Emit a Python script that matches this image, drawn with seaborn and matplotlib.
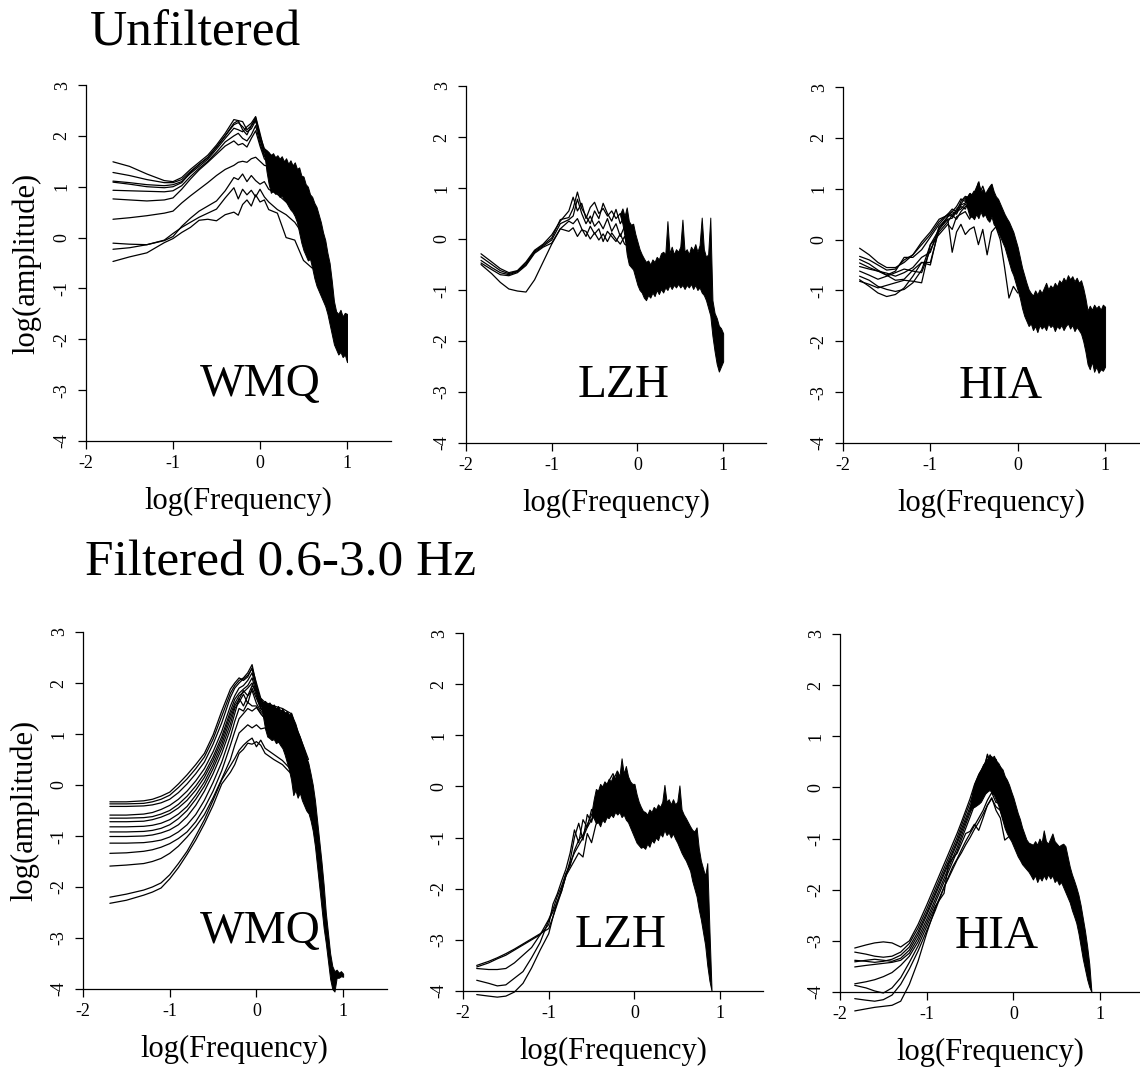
import numpy as np
import pandas as pd
import matplotlib
matplotlib.use("Agg")
import matplotlib.pyplot as plt
import seaborn as sns

# ---------------------------------------------------------------- data
# ---- Unfiltered, WMQ
U_WMQ_X = [-1.69, -1.5, -1.3, -1.1, -1.0, -0.9, -0.8, -0.7, -0.6, -0.5, -0.4, -0.3, -0.25,
           -0.2, -0.15, -0.1, -0.05, 0.0, 0.05, 0.1, 0.2, 0.3, 0.4, 0.5, 0.6]
U_WMQ_LINES = [
    [1.49, 1.40, 1.25, 1.12, 1.10, 1.18, 1.34, 1.48, 1.62, 1.82, 2.05, 2.32, 2.30, 2.28, 2.12, 2.20, 2.36, 2.00, 1.75, 1.65, 1.55, 1.45, 1.40, 1.10, 0.70],
    [1.28, 1.22, 1.14, 1.08, 1.08, 1.14, 1.30, 1.44, 1.58, 1.78, 2.00, 2.22, 2.26, 2.18, 2.08, 2.14, 2.30, 1.92, 1.68, 1.60, 1.50, 1.38, 1.30, 1.00, 0.60],
    [1.11, 1.08, 1.04, 1.02, 1.04, 1.10, 1.26, 1.40, 1.54, 1.74, 1.95, 2.15, 2.12, 2.08, 2.18, 2.25, 2.38, 2.05, 1.70, 1.62, 1.45, 1.30, 1.25, 0.95, 0.50],
    [1.09, 1.05, 1.00, 0.98, 1.00, 1.08, 1.28, 1.44, 1.57, 1.78, 2.00, 2.25, 2.30, 2.12, 2.02, 2.20, 2.32, 1.95, 1.62, 1.55, 1.40, 1.35, 1.20, 0.90, 0.55],
    [0.93, 0.92, 0.91, 0.90, 0.92, 1.02, 1.20, 1.36, 1.50, 1.68, 1.88, 2.00, 2.05, 1.95, 1.90, 2.02, 2.20, 1.85, 1.60, 1.50, 1.30, 1.20, 1.10, 0.85, 0.45],
    [0.76, 0.74, 0.72, 0.74, 0.78, 0.95, 1.15, 1.33, 1.48, 1.64, 1.80, 1.90, 1.82, 1.85, 1.78, 1.95, 2.10, 1.80, 1.55, 1.45, 1.25, 1.15, 1.00, 0.75, 0.40],
    [0.36, 0.39, 0.43, 0.48, 0.52, 0.68, 0.82, 0.95, 1.08, 1.22, 1.34, 1.42, 1.48, 1.50, 1.48, 1.55, 1.58, 1.50, 1.42, 1.40, 1.20, 1.05, 0.80, 0.55, 0.20],
    [-0.11, -0.13, -0.14, -0.06, 0.02, 0.22, 0.38, 0.52, 0.62, 0.72, 0.92, 1.18, 1.14, 1.25, 1.10, 1.22, 1.12, 1.05, 1.10, 0.95, 0.85, 0.70, 0.55, 0.25, -0.05],
    [-0.23, -0.20, -0.14, -0.05, 0.08, 0.20, 0.30, 0.40, 0.48, 0.56, 0.78, 0.98, 0.76, 0.95, 0.84, 0.93, 0.80, 0.95, 0.80, 0.70, 0.55, 0.45, 0.30, 0.05, -0.25],
    [-0.47, -0.38, -0.30, -0.10, -0.02, 0.10, 0.20, 0.34, 0.36, 0.33, 0.45, 0.50, 0.44, 0.65, 0.74, 0.62, 0.84, 0.70, 0.74, 0.55, 0.48, 0.00, -0.05, -0.45, -0.60],
]
U_WMQ_BAND_SPAN = (0.05, 1.0)
U_WMQ_BAND_HI = [1.75, 1.72, 1.68, 1.62, 1.66, 1.58, 1.62, 1.55, 1.60, 1.50, 1.56, 1.45, 1.52, 1.42, 1.48, 1.35,
                 1.38, 1.22, 1.20, 1.05, 1.00, 0.85, 0.80, 0.68, 0.60, 0.45, 0.30, 0.10, -0.05, -0.30, -0.50,
                 -0.85, -1.25, -1.45, -1.50, -1.42, -1.55, -1.48, -1.50]
U_WMQ_BAND_LO = [1.65, 1.30, 1.05, 0.88, 0.92, 0.86, 0.88, 0.80, 0.82, 0.75, 0.70, 0.62, 0.55, 0.50, 0.42, 0.30,
                 0.10, -0.10, -0.25, -0.35, -0.45, -0.42, -0.60, -0.80, -0.95, -1.05, -1.15, -1.25, -1.35, -1.50,
                 -1.70, -1.90, -2.10, -2.20, -2.30, -2.25, -2.35, -2.30, -2.45]

# ---- Unfiltered, LZH
U_LZH_X = [-1.825, -1.7, -1.6, -1.5, -1.4, -1.3, -1.2, -1.1, -1.0, -0.9, -0.8, -0.75, -0.7, -0.65,
           -0.6, -0.55, -0.5, -0.45, -0.4, -0.35, -0.3, -0.25, -0.2, -0.15, -0.1]
U_LZH_LINES = [
    [-0.29, -0.45, -0.58, -0.66, -0.62, -0.45, -0.22, -0.10, 0.08, 0.35, 0.55, 0.82, 0.55, 0.70, 0.40, 0.62, 0.72, 0.50, 0.60, 0.45, 0.55, 0.40, 0.50, 0.30, 0.20],
    [-0.35, -0.50, -0.62, -0.68, -0.63, -0.48, -0.24, -0.12, 0.02, 0.38, 0.42, 0.60, 0.92, 0.60, 0.45, 0.30, 0.55, 0.40, 0.70, 0.50, 0.35, 0.58, 0.30, 0.45, 0.10],
    [-0.42, -0.56, -0.66, -0.70, -0.64, -0.50, -0.26, -0.14, -0.02, 0.30, 0.38, 0.45, 0.78, 0.50, 0.30, 0.45, 0.25, 0.35, 0.20, 0.40, 0.15, 0.30, 0.05, 0.25, 0.00],
    [-0.47, -0.60, -0.70, -0.72, -0.66, -0.52, -0.28, -0.16, -0.08, 0.20, 0.35, 0.30, 0.40, 0.20, 0.05, 0.25, 0.10, 0.20, -0.05, 0.15, 0.05, -0.05, 0.10, -0.10, -0.15],
    [-0.50, -0.68, -0.85, -0.98, -1.02, -1.04, -0.80, -0.45, -0.10, 0.20, 0.15, 0.22, 0.05, 0.18, 0.15, 0.00, 0.12, -0.02, 0.10, -0.05, 0.12, 0.00, -0.10, 0.05, -0.20],
]
U_LZH_BAND_SPAN = (-0.2, 1.0)
U_LZH_BAND_HI = [0.50, 0.60, 0.45, 0.62, 0.35, 0.28, 0.30, 0.10,
                 -0.05, -0.20, -0.30, -0.38, -0.45, -0.42, -0.50, -0.40,
                 -0.45, -0.35, -0.40, -0.28, -0.25, -0.30, 0.35, -0.28,
                 -0.15, -0.30, -0.20, -0.25, -0.15, 0.38, -0.25, -0.20,
                 -0.30, -0.15, -0.22, -0.10, -0.25, -0.12, 0.42, -0.20,
                 -0.35, -0.30, 0.42, -1.20, -1.45, -1.55, -1.70, -1.75, -1.85]
U_LZH_BAND_LO = [0.45, 0.30, 0.05, -0.30, -0.50, -0.55, -0.60, -0.75,
                 -0.90, -1.00, -1.05, -1.15, -1.20, -1.10, -1.15, -1.05,
                 -1.12, -1.00, -1.08, -0.98, -1.05, -0.95, -1.00, -0.90,
                 -0.98, -0.90, -0.95, -0.88, -0.95, -0.90, -0.98, -0.90,
                 -0.95, -0.88, -0.98, -0.90, -1.00, -0.95, -1.05, -1.10,
                 -1.20, -1.35, -1.50, -1.90, -2.20, -2.45, -2.60, -2.50, -2.40]

# ---- Unfiltered, HIA
U_HIA_X = [-1.81, -1.7, -1.6, -1.5, -1.4, -1.3, -1.2, -1.1, -1.0, -0.9, -0.8, -0.75, -0.7, -0.65,
           -0.6, -0.55, -0.5, -0.45, -0.4, -0.35, -0.3, -0.25, -0.2, -0.15, -0.1, -0.05, 0.0]
U_HIA_LINES = [
    [-0.17, -0.30, -0.45, -0.55, -0.55, -0.45, -0.30, -0.10, 0.10, 0.35, 0.50, 0.60, 0.55, 0.75, 0.85, 0.80, 0.95, 0.85, 1.05, 0.80, 0.95, 0.70, 0.60, 0.40, 0.30, 0.00, -0.30],
    [-0.33, -0.40, -0.50, -0.60, -0.58, -0.40, -0.30, -0.05, 0.15, 0.40, 0.48, 0.55, 0.65, 0.80, 0.75, 0.90, 0.80, 1.12, 0.85, 0.75, 1.08, 0.65, 0.55, 0.35, 0.20, -0.10, -0.40],
    [-0.39, -0.48, -0.60, -0.70, -0.62, -0.35, -0.35, -0.20, 0.05, 0.30, 0.50, 0.45, 0.60, 0.70, 0.82, 0.65, 0.78, 0.70, 0.88, 0.90, 0.75, 0.80, 0.50, 0.30, 0.15, -0.20, -0.50],
    [-0.46, -0.55, -0.62, -0.66, -0.72, -0.65, -0.55, -0.35, -0.25, 0.25, 0.45, 0.55, 0.50, 0.68, 0.72, 0.85, 0.70, 0.80, 0.60, 0.85, 0.70, 0.55, 0.45, 0.35, 0.10, -0.05, -0.45],
    [-0.53, -0.58, -0.62, -0.70, -0.80, -0.78, -0.60, -0.45, -0.45, 0.20, 0.40, 0.42, 0.55, 0.60, 0.70, 0.58, 0.75, 0.65, 0.72, 0.60, 0.82, 0.60, 0.40, 0.25, 0.05, -0.15, -0.60],
    [-0.62, -0.70, -0.78, -0.72, -0.65, -0.58, -0.62, -0.65, -0.20, 0.15, 0.35, 0.48, 0.40, 0.55, 0.65, 0.70, 0.62, 0.75, 0.55, 0.65, 0.60, 0.45, 0.35, 0.20, 0.00, -0.30, -0.70],
    [-0.72, -0.80, -0.92, -0.98, -1.02, -0.98, -0.85, -0.60, -0.10, 0.10, 0.30, 0.20, 0.45, 0.50, 0.55, 0.40, 0.60, 0.50, 0.65, 0.45, 0.55, 0.40, 0.25, 0.10, -0.10, -0.40, -0.80],
    [-0.79, -0.92, -1.05, -1.12, -1.08, -0.95, -0.72, -0.45, -0.50, 0.25, 0.40, -0.25, 0.15, 0.30, 0.10, 0.20, 0.25, -0.10, 0.20, -0.30, 0.15, 0.25, 0.00, -0.55, -1.15, -0.92, -1.05],
    [-0.82, -0.88, -0.95, -0.90, -0.85, -0.80, -0.82, -0.85, -0.10, 0.20, 0.45, 0.50, 0.55, 0.65, 0.60, 0.78, 0.70, 0.90, 0.72, 0.80, 0.62, 0.50, 0.30, 0.15, -0.05, -0.35, -0.75],
]
U_HIA_BAND_SPAN = (-0.6, 1.0)
U_HIA_BAND_HI = [0.85, 0.85, 0.92, 0.88, 0.95, 1.05, 1.15, 0.92,
                 1.00, 0.90, 0.98, 1.05, 1.10, 0.95, 0.85, 0.80,
                 0.70, 0.60, 0.50, 0.42, 0.35, 0.25, 0.15, 0.00,
                 -0.15, -0.35, -0.55, -0.70, -0.85, -0.98, -1.05, -1.10,
                 -1.00, -1.08, -0.98, -1.05, -0.95, -0.85, -0.98, -0.90,
                 -0.95, -0.85, -0.92, -0.80, -0.85, -0.75, -0.82, -0.70,
                 -0.78, -0.72, -0.82, -0.75, -0.85, -0.80, -0.95, -1.15,
                 -1.40, -1.30, -1.38, -1.28, -1.35, -1.30, -1.38, -1.28, -1.32]
U_HIA_BAND_LO = [0.80, 0.60, 0.45, 0.45, 0.40, 0.50, 0.42, 0.55,
                 0.45, 0.50, 0.40, 0.35, 0.45, 0.30, 0.25, 0.15,
                 0.05, -0.05, -0.15, -0.30, -0.45, -0.60, -0.70, -0.85,
                 -1.00, -1.15, -1.35, -1.50, -1.60, -1.70, -1.65, -1.78,
                 -1.70, -1.82, -1.68, -1.75, -1.70, -1.78, -1.65, -1.72,
                 -1.68, -1.80, -1.70, -1.75, -1.68, -1.78, -1.70, -1.65,
                 -1.75, -1.68, -1.80, -1.72, -1.78, -1.85, -2.00, -2.20,
                 -2.45, -2.55, -2.40, -2.60, -2.50, -2.62, -2.55, -2.58, -2.50]

# ---- Filtered 0.6-3.0 Hz, WMQ
F_WMQ_X = [-1.69, -1.5, -1.3, -1.2, -1.1, -1.0, -0.9, -0.8, -0.7, -0.6, -0.5, -0.4, -0.3, -0.25,
           -0.2, -0.15, -0.1, -0.05, 0.0, 0.05, 0.1, 0.2, 0.3, 0.4, 0.5, 0.6]
F_WMQ_LINES = [
    [-0.33, -0.33, -0.31, -0.28, -0.22, -0.14, 0.02, 0.20, 0.40, 0.62, 0.98, 1.45, 1.88, 2.00, 2.10, 2.05, 2.12, 2.30, 2.00, 1.70, 1.62, 1.55, 1.50, 1.40, 0.95, 0.50],
    [-0.37, -0.37, -0.36, -0.33, -0.28, -0.20, -0.05, 0.12, 0.32, 0.55, 0.90, 1.35, 1.80, 1.95, 2.05, 2.10, 2.20, 2.36, 1.95, 1.65, 1.58, 1.52, 1.45, 1.30, 0.90, 0.40],
    [-0.42, -0.42, -0.41, -0.39, -0.35, -0.28, -0.15, 0.02, 0.22, 0.45, 0.80, 1.22, 1.72, 1.90, 2.00, 2.08, 2.15, 2.28, 1.90, 1.60, 1.55, 1.45, 1.40, 1.25, 0.85, 0.35],
    [-0.59, -0.59, -0.57, -0.54, -0.48, -0.40, -0.28, -0.12, 0.08, 0.32, 0.65, 1.05, 1.55, 1.75, 1.90, 1.95, 2.05, 2.20, 1.85, 1.55, 1.50, 1.40, 1.30, 1.20, 0.80, 0.30],
    [-0.65, -0.65, -0.64, -0.62, -0.57, -0.50, -0.38, -0.22, -0.02, 0.22, 0.55, 0.95, 1.45, 1.68, 1.80, 1.88, 1.95, 2.10, 1.80, 1.52, 1.45, 1.35, 1.25, 1.10, 0.75, 0.25],
    [-0.72, -0.72, -0.71, -0.68, -0.63, -0.56, -0.45, -0.30, -0.10, 0.15, 0.48, 0.88, 1.38, 1.60, 1.75, 1.82, 1.90, 2.00, 1.75, 1.50, 1.40, 1.30, 1.20, 1.05, 0.70, 0.20],
    [-0.82, -0.82, -0.81, -0.79, -0.75, -0.68, -0.57, -0.42, -0.20, 0.06, 0.40, 0.80, 1.30, 1.55, 1.68, 1.85, 1.75, 1.95, 1.85, 1.60, 1.45, 1.35, 1.25, 1.15, 0.75, 0.30],
    [-0.92, -0.92, -0.91, -0.89, -0.85, -0.78, -0.66, -0.50, -0.28, -0.02, 0.32, 0.72, 1.20, 1.50, 1.62, 1.78, 1.60, 1.90, 1.70, 1.50, 1.40, 1.30, 1.20, 1.00, 0.70, 0.25],
    [-1.01, -1.01, -1.00, -0.98, -0.94, -0.88, -0.78, -0.62, -0.40, -0.12, 0.22, 0.62, 1.10, 1.40, 1.70, 1.55, 1.75, 1.85, 1.60, 1.45, 1.35, 1.25, 1.10, 0.95, 0.60, 0.15],
    [-1.14, -1.14, -1.13, -1.11, -1.08, -1.02, -0.92, -0.78, -0.58, -0.30, 0.05, 0.45, 0.95, 1.25, 1.50, 1.45, 1.62, 1.55, 1.55, 1.40, 1.30, 1.15, 1.05, 0.90, 0.55, 0.10],
    [-1.34, -1.33, -1.30, -1.27, -1.22, -1.15, -1.05, -0.92, -0.72, -0.45, -0.12, 0.28, 0.78, 1.05, 1.30, 1.40, 1.50, 1.45, 1.52, 1.40, 1.30, 1.20, 1.10, 0.90, 0.50, 0.05],
    [-1.59, -1.57, -1.54, -1.50, -1.44, -1.34, -1.20, -1.02, -0.82, -0.58, -0.25, 0.12, 0.50, 0.78, 1.02, 1.10, 1.18, 1.12, 1.18, 1.10, 1.12, 0.95, 0.85, 0.70, 0.40, -0.10],
    [-2.20, -2.14, -2.06, -2.00, -1.92, -1.76, -1.54, -1.30, -1.00, -0.68, -0.30, 0.10, 0.38, 0.52, 0.68, 0.78, 0.86, 0.92, 0.75, 0.88, 0.72, 0.60, 0.48, 0.30, 0.10, -0.45],
    [-2.32, -2.26, -2.16, -2.10, -2.02, -1.84, -1.62, -1.36, -1.08, -0.76, -0.40, 0.02, 0.25, 0.40, 0.62, 0.70, 0.82, 0.80, 0.85, 0.78, 0.62, 0.50, 0.40, 0.22, 0.00, -0.55],
]
F_WMQ_BAND_SPAN = (0.05, 1.0)
F_WMQ_BAND_HI = [1.70, 1.62, 1.65, 1.58, 1.62, 1.55, 1.58, 1.50,
                 1.55, 1.45, 1.50, 1.42, 1.45, 1.38, 1.42, 1.30,
                 1.20, 1.05, 0.95, 0.82, 0.70, 0.55, 0.42, 0.22,
                 0.00, -0.30, -0.70, -1.10, -1.50, -1.95, -2.50, -2.90,
                 -3.30, -3.55, -3.65, -3.62, -3.68, -3.65, -3.70]
F_WMQ_BAND_LO = [1.62, 1.35, 1.10, 0.95, 0.92, 0.88, 0.90, 0.82,
                 0.85, 0.78, 0.72, 0.60, 0.45, 0.30, 0.10, -0.20,
                 -0.10, -0.25, -0.15, -0.30, -0.40, -0.50, -0.55, -0.70,
                 -0.90, -1.20, -1.60, -2.00, -2.40, -2.80, -3.10, -3.45,
                 -3.80, -4.00, -4.05, -3.78, -3.78, -3.75, -3.76]

# ---- Filtered 0.6-3.0 Hz, LZH
F_LZH_X = [-1.84, -1.7, -1.6, -1.5, -1.4, -1.3, -1.2, -1.1, -1.0, -0.95, -0.9, -0.85, -0.8, -0.75,
           -0.7, -0.65, -0.6, -0.55, -0.5, -0.45, -0.4, -0.35, -0.3, -0.25, -0.2, -0.15, -0.1]
F_LZH_LINES = [
    [-3.50, -3.42, -3.35, -3.27, -3.18, -3.08, -2.98, -2.88, -2.78, -2.55, -2.25, -2.00, -1.75, -1.45, -1.00, -0.72, -1.05, -0.55, -0.70, -0.35, -0.50, -0.10, -0.30, 0.05, -0.10, 0.20, 0.10],
    [-3.53, -3.45, -3.37, -3.30, -3.20, -3.10, -3.00, -2.90, -2.70, -2.30, -2.10, -1.85, -1.62, -1.30, -0.85, -1.10, -0.65, -0.80, -0.45, -0.60, -0.20, -0.40, 0.00, -0.15, 0.25, 0.05, 0.20],
    [-3.56, -3.58, -3.58, -3.56, -3.45, -3.30, -3.15, -2.90, -2.60, -2.40, -2.15, -1.95, -1.70, -1.55, -1.25, -1.05, -0.95, -0.75, -0.55, -0.45, -0.25, -0.15, 0.10, 0.25, 0.05, 0.15, -0.10],
    [-3.79, -3.85, -3.90, -3.88, -3.75, -3.62, -3.35, -3.05, -2.62, -2.45, -2.25, -2.05, -1.75, -1.50, -1.30, -1.15, -1.00, -0.80, -0.65, -0.40, -0.50, -0.20, -0.05, 0.10, 0.30, 0.00, 0.15],
    [-4.07, -4.10, -4.12, -4.10, -4.02, -3.85, -3.55, -3.20, -2.88, -2.55, -2.30, -2.05, -1.75, -1.60, -1.45, -1.30, -1.38, -0.92, -1.10, -0.75, -0.60, -0.40, -0.55, -0.20, -0.35, -0.10, 0.00],
]
F_LZH_BAND_SPAN = (-0.5, 0.9)
F_LZH_BAND_HI = [-0.50, -0.25, -0.05, -0.08, 0.05, 0.00, 0.10, 0.05,
                 0.15, 0.10, 0.22, 0.15, 0.30, 0.20, 0.55, 0.25,
                 0.40, 0.20, 0.10, 0.05, 0.05, -0.15, -0.30, -0.40,
                 -0.48, -0.50, -0.55, -0.45, -0.50, -0.40, -0.45, -0.35,
                 -0.40, -0.30, 0.03, -0.30, -0.25, -0.35, -0.25, -0.35,
                 -0.30, 0.02, -0.45, -0.55, -0.62, -0.70, -0.78, -0.85,
                 -0.88, -0.80, -1.20, -1.45, -1.60, -1.75, -1.50, -2.80, -4.00]
F_LZH_BAND_LO = [-0.58, -0.62, -0.72, -0.70, -0.78, -0.65, -0.70, -0.60,
                 -0.62, -0.55, -0.60, -0.50, -0.55, -0.50, -0.60, -0.55,
                 -0.65, -0.70, -0.80, -0.90, -1.00, -1.10, -1.15, -1.20,
                 -1.18, -1.22, -1.12, -1.18, -1.05, -1.10, -1.00, -1.05,
                 -0.92, -0.98, -0.85, -0.95, -0.90, -1.00, -0.92, -1.02,
                 -1.10, -1.20, -1.30, -1.38, -1.45, -1.55, -1.65, -1.85,
                 -2.00, -2.15, -2.40, -2.60, -2.85, -3.10, -3.50, -3.80, -4.00]

# ---- Filtered 0.6-3.0 Hz, HIA
F_HIA_X = [-1.83, -1.7, -1.6, -1.5, -1.4, -1.3, -1.2, -1.1, -1.0, -0.9, -0.8, -0.75, -0.7, -0.65,
           -0.6, -0.55, -0.5, -0.45, -0.4, -0.35, -0.3, -0.25, -0.2, -0.15, -0.1, -0.05, 0.0]
F_HIA_LINES = [
    [-3.14, -3.08, -3.04, -3.02, -3.04, -3.12, -3.00, -2.68, -2.30, -1.90, -1.50, -1.30, -1.10, -0.90, -0.68, -0.45, -0.22, 0.05, 0.25, 0.40, 0.55, 0.60, 0.45, 0.35, 0.20, 0.00, -0.25],
    [-3.22, -3.26, -3.30, -3.32, -3.30, -3.22, -3.05, -2.75, -2.38, -1.98, -1.58, -1.38, -1.18, -0.98, -0.75, -0.52, -0.30, -0.05, 0.20, 0.35, 0.62, 0.45, 0.55, 0.30, 0.15, -0.10, -0.35],
    [-3.38, -3.40, -3.42, -3.40, -3.36, -3.28, -3.12, -2.82, -2.45, -2.05, -1.65, -1.45, -1.25, -1.05, -0.82, -0.60, -0.38, -0.15, 0.10, 0.30, 0.50, 0.55, 0.35, 0.40, 0.10, -0.15, -0.45],
    [-3.41, -3.38, -3.36, -3.38, -3.40, -3.34, -3.18, -2.88, -2.50, -2.10, -1.70, -1.50, -1.30, -1.10, -0.88, -0.66, -0.44, -0.20, 0.05, 0.25, 0.65, 0.40, 0.50, 0.20, 0.20, -0.20, -0.50],
    [-3.51, -3.48, -3.46, -3.44, -3.42, -3.38, -3.24, -2.95, -2.58, -2.18, -1.78, -1.58, -1.38, -1.18, -0.95, -0.72, -0.50, -0.28, -0.05, 0.15, 0.40, 0.30, 0.25, 0.10, 0.05, -0.30, -0.55],
    [-3.84, -3.80, -3.76, -3.70, -3.62, -3.48, -3.30, -3.02, -2.65, -2.25, -1.85, -1.65, -1.45, -1.25, -1.02, -0.80, -0.58, -0.35, -0.15, 0.05, 0.30, 0.10, 0.15, -0.05, -0.20, -0.40, -0.65],
    [-3.87, -3.92, -3.98, -4.02, -3.92, -3.72, -3.42, -3.10, -2.72, -2.32, -2.07, -1.50, -1.38, -1.29, -1.10, -0.90, -0.86, -0.72, -0.84, -0.60, -0.35, -0.20, -0.45, -0.60, -1.03, -0.96, -1.00],
    [-4.13, -4.16, -4.18, -4.15, -4.06, -3.85, -3.55, -3.20, -2.80, -2.40, -1.95, -1.75, -1.55, -1.40, -1.22, -1.05, -0.90, -0.75, -0.60, -0.45, -0.25, -0.10, -0.30, -0.25, -0.50, -0.70, -0.85],
    [-4.37, -4.33, -4.30, -4.28, -4.26, -4.18, -3.85, -3.40, -2.85, -2.35, -1.95, -1.78, -1.60, -1.42, -1.28, -1.12, -0.98, -0.82, -0.68, -0.52, -0.35, -0.22, -0.38, -0.45, -0.70, -0.85, -0.95],
]
F_HIA_BAND_SPAN = (-0.5, 0.9)
F_HIA_BAND_HI = [-0.38, -0.10, 0.08, 0.18, 0.28, 0.35, 0.45, 0.50,
                 0.55, 0.65, 0.58, 0.62, 0.52, 0.48, 0.40, 0.35,
                 0.22, 0.15, 0.05, -0.08, -0.20, -0.35, -0.50, -0.62,
                 -0.78, -0.90, -1.02, -1.08, -1.10, -1.12, -1.05, -1.12,
                 -1.00, -1.08, -0.84, -1.05, -1.10, -1.00, -0.90, -1.05,
                 -1.10, -1.15, -1.12, -1.10, -1.15, -1.35, -1.55, -1.70,
                 -1.82, -1.95, -2.10, -2.30, -2.55, -2.80, -3.10, -3.45, -4.00]
F_HIA_BAND_LO = [-0.45, -0.40, -0.38, -0.35, -0.32, -0.28, -0.20, -0.12,
                 -0.08, -0.05, -0.10, -0.15, -0.25, -0.35, -0.50, -0.65,
                 -0.80, -0.90, -0.98, -1.05, -1.15, -1.25, -1.35, -1.42,
                 -1.50, -1.55, -1.60, -1.65, -1.72, -1.80, -1.72, -1.85,
                 -1.75, -1.82, -1.72, -1.80, -1.70, -1.78, -1.72, -1.85,
                 -1.80, -1.90, -1.85, -1.95, -2.05, -2.15, -2.25, -2.40,
                 -2.52, -2.65, -2.85, -3.10, -3.35, -3.55, -3.75, -3.90, -4.00]

STATIONS = ["WMQ", "LZH", "HIA"]
ROW_TITLES = ["Unfiltered", "Filtered 0.6-3.0 Hz"]
X_TICKS = [-2, -1, 0, 1]
Y_TICKS = [-4, -3, -2, -1, 0, 1, 2, 3]

PANELS = [
    (U_WMQ_X, U_WMQ_LINES, U_WMQ_BAND_SPAN, U_WMQ_BAND_HI, U_WMQ_BAND_LO),
    (U_LZH_X, U_LZH_LINES, U_LZH_BAND_SPAN, U_LZH_BAND_HI, U_LZH_BAND_LO),
    (U_HIA_X, U_HIA_LINES, U_HIA_BAND_SPAN, U_HIA_BAND_HI, U_HIA_BAND_LO),
    (F_WMQ_X, F_WMQ_LINES, F_WMQ_BAND_SPAN, F_WMQ_BAND_HI, F_WMQ_BAND_LO),
    (F_LZH_X, F_LZH_LINES, F_LZH_BAND_SPAN, F_LZH_BAND_HI, F_LZH_BAND_LO),
    (F_HIA_X, F_HIA_LINES, F_HIA_BAND_SPAN, F_HIA_BAND_HI, F_HIA_BAND_LO),
]

# ---------------------------------------------------------------- layout / style
W, H = 1140, 1074
AX_RECTS = [
    [86 / W, 1 - 441 / H, 304.5 / W, 356 / H],
    [466 / W, 1 - 443 / H, 300 / W, 357 / H],
    [843 / W, 1 - 443 / H, 297 / W, 356 / H],
    [83 / W, 1 - 989 / H, 303.5 / W, 357 / H],
    [463 / W, 1 - 991 / H, 300 / W, 358 / H],
    [840 / W, 1 - 992 / H, 300 / W, 358 / H],
]
X_MAX = [1.5, 1.5, 1.40, 1.5, 1.5, 1.46]
LABEL_POS = [(0.0, -3.12), (-0.156, -3.10), (-0.20, -3.11),
             (0.04, -3.10), (-0.16, -3.14), (-0.19, -3.13)]

sns.set_style("ticks")
plt.rcParams["font.family"] = ["Liberation Serif", "DejaVu Serif"]
plt.rcParams["axes.unicode_minus"] = False
plt.rcParams["text.color"] = "black"
plt.rcParams["axes.labelcolor"] = "black"
plt.rcParams["xtick.color"] = "black"
plt.rcParams["ytick.color"] = "black"
plt.rcParams["axes.edgecolor"] = "black"

fig = plt.figure(figsize=(W / 100, H / 100), dpi=100)

for i, (xs, lines, span, hi, lo) in enumerate(PANELS):
    ax = fig.add_axes(AX_RECTS[i])
    rows = [(x, y, k) for k, ys in enumerate(lines) for x, y in zip(xs, ys)]
    df = pd.DataFrame(rows, columns=["x", "y", "trace"])
    sns.lineplot(data=df, x="x", y="y", units="trace", estimator=None, sort=False,
                 color="black", linewidth=0.9, legend=False, ax=ax)
    n = min(len(hi), len(lo))
    bx = np.linspace(span[0], span[1], n)
    ax.fill_between(bx, lo[:n], hi[:n], facecolor="black", edgecolor="black",
                    linewidth=0.7, clip_on=False)
    for ln in ax.lines:
        ln.set_clip_on(False)

    ax.set_xlim(-2, X_MAX[i])
    ax.set_ylim(-4, 3)
    sns.despine(ax=ax)
    for s in ("left", "bottom"):
        ax.spines[s].set_linewidth(0.9)
        ax.spines[s].set_color("black")
    ax.set_xticks(X_TICKS)
    ax.set_yticks(Y_TICKS)
    ax.set_xticklabels([str(t) for t in X_TICKS])
    ax.set_yticklabels([str(t) for t in Y_TICKS])
    ax.tick_params(direction="out", length=6, width=0.9, labelsize=13,
                   colors="black", labelcolor="black")
    ax.tick_params(axis="x", pad=4)
    ax.tick_params(axis="y", pad=5)
    for lab in ax.get_yticklabels():
        lab.set_rotation(90)
        lab.set_va("center")

    ax.set_xlabel("log(Frequency)", fontsize=22, color="black")
    ax.xaxis.set_label_coords(0.5, -0.128)
    if i % 3 == 0:
        ax.set_ylabel("log(amplitude)", fontsize=22, color="black")
        ax.yaxis.set_label_coords(-0.145, 0.5)
    else:
        ax.set_ylabel("")

    lx, ly = LABEL_POS[i]
    ax.text(lx, ly, STATIONS[i % 3], ha="center", va="baseline", fontsize=34, color="black")

fig.text(90 / W, 1 - 45 / H, ROW_TITLES[0], fontsize=37, ha="left", va="baseline", color="black")
fig.text(85 / W, 1 - 575 / H, ROW_TITLES[1], fontsize=37, ha="left", va="baseline", color="black")

fig.savefig("out.png", dpi=100)
